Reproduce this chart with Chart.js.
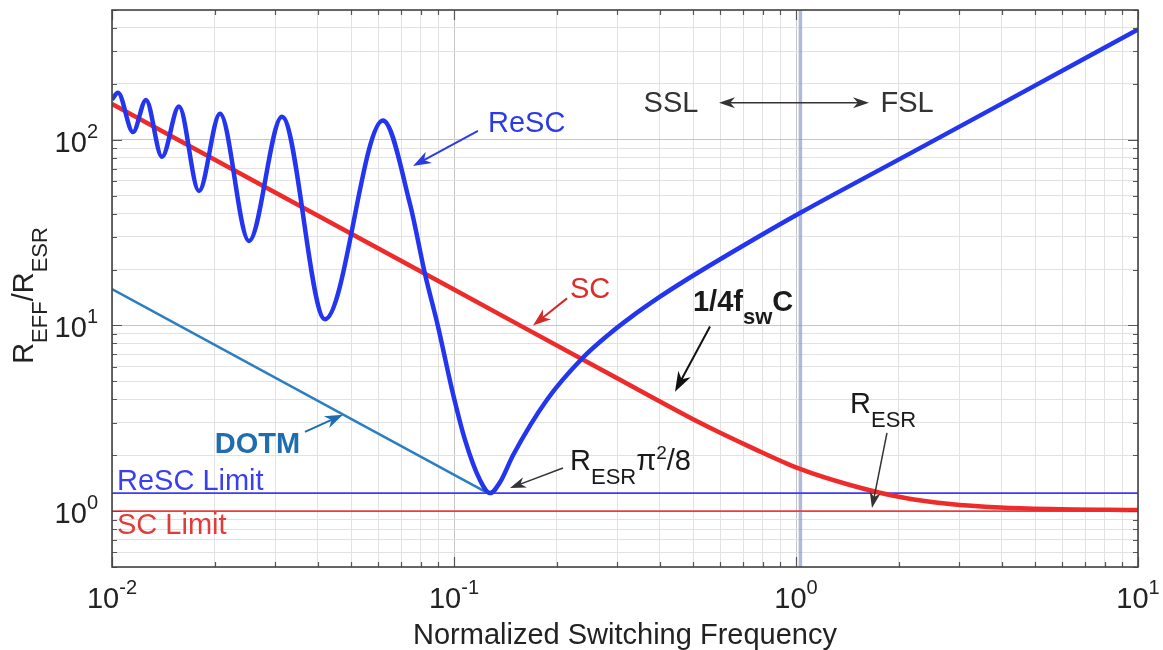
<!DOCTYPE html>
<html><head><meta charset="utf-8">
<script src="https://cdn.jsdelivr.net/npm/chart.js@4.4.1/dist/chart.umd.min.js"></script>
<style>html,body{margin:0;padding:0;background:#fff;}#wrap{width:1163px;height:650px;}</style>
</head><body><div id="wrap"><canvas id="c" width="1163" height="650"></canvas></div>
<script>
// ---- data ----
const rescFreq   = [0.0100, 0.01041, 0.01152, 0.01257, 0.01400, 0.01570, 0.01796, 0.02069, 0.02515, 0.03141, 0.04196, 0.06199, 0.07435, 0.08227, 0.08979, 0.09868, 0.1077, 0.1191, 0.1274, 0.1363, 0.1488, 0.187, 0.238, 0.2858, 0.327, 0.4003, 0.468, 0.686, 1.027, 2.014, 3.95, 10];
const rescValues = [165, 179, 110, 164, 81, 151, 53, 138, 28.5, 133, 10.8, 127, 45.1, 18.9, 9.88, 4.51, 2.42, 1.47, 1.25, 1.43, 2.0, 3.98, 6.7, 9.06, 10.99, 14.28, 17.19, 26.27, 40.3, 78.9, 154.6, 393];
const scFreq     = [0.01, 0.1, 0.3, 0.524, 0.6, 0.7337, 1.027, 1.439, 2.014, 2.82, 3.95, 5.53, 10];
const scValues   = [156, 15.6, 5.2, 2.99, 2.64, 2.218, 1.687, 1.382, 1.19, 1.091, 1.0445, 1.025, 1.0125];
const dotmFreq   = [0.01, 0.1256];
const dotmValues = [15.7, 1.25];
const limitFreq  = [0.01, 10];
const rescLimit  = [1.25, 1.25];
const scLimit    = [1.0, 1.0];
const boundaryFreq   = [1.03, 1.03];
const boundaryValues = [0.5, 500];
const xMajor = [0.01, 0.1, 1, 10];
const xTickLabels = ['10^-2', '10^-1', '10^0', '10^1'];
const yMajor = [1, 10, 100];
const yTickLabels = ['10^0', '10^1', '10^2'];

const FONT = '"Liberation Sans", Arial, Helvetica, sans-serif';
function minorTicks(lo, hi) {
  const out = [];
  for (let e = -3; e <= 3; e++) for (let m = 1; m <= 9; m++) {
    const v = +(m * Math.pow(10, e)).toPrecision(6);
    if (v >= lo - 1e-12 && v <= hi + 1e-9) out.push(v);
  }
  return out;
}
const xTickValues = minorTicks(0.01, 10);
const yTickValues = minorTicks(0.5, 500);
const isMaj = (arr, v) => arr.some(m => Math.abs(m - v) / m < 1e-6);
const pts = (xs, ys) => xs.map((x, i) => ({x, y: ys[i]}));
const powParts = s => { const p = s.split('^'); return [[p[0], 29], [p[1], 20, -14]]; };

// annotations (data coordinates)
const notes = [
  {at:[0.1257,110.5], align:'left', color:'#2a3be6', parts:[['ReSC',29]]},
  {at:[0.2184,13.99], align:'left', color:'#e02a2a', parts:[['SC',29]]},
  {at:[0.4997,11.9], align:'left', color:'#1a1a1a', bold:true, parts:[['1/4f',29],['sw',22,13],['C',29]]},
  {at:[0.2184,1.666], align:'left', color:'#1a1a1a', parts:[['R',29],['ESR',22,14],['\u03C0',29],['2',19,-11],['/8',29]]},
  {at:[1.439,3.386], align:'left', color:'#1a1a1a', parts:[['R',29],['ESR',22,14]]},
  {at:[0.4311,141.7], align:'center', color:'#333', parts:[['SSL',29]]},
  {at:[2.112,141.7], align:'center', color:'#333', parts:[['FSL',29]]},
  {at:[0.02663,2.058], align:'center', color:'#1f6db0', bold:true, parts:[['DOTM',29]]},
  {at:[0.01034,1.299], align:'left', color:'#3a3ff0', parts:[['ReSC Limit',29]]},
  {at:[0.01034,0.751], align:'left', color:'#e23b3b', parts:[['SC Limit',29]]}
];
const arrows = [
  {from:[0.1175,111.8], to:[0.0759,72.3], color:'#2a3be6', w:2, L:18, W:13},
  {from:[0.2140,13.99], to:[0.1702,10.0], color:'#d62828', w:2, L:18, W:13},
  {from:[0.5605,9.88], to:[0.4428,4.40], color:'#111', w:2, L:20, W:14},
  {from:[0.2083,1.708], to:[0.1458,1.331], color:'#333', w:1.5, L:16, W:11},
  {from:[1.845,2.64], to:[1.668,1.038], color:'#333', w:1.5, L:16, W:11},
  {from:[1.027,158.5], to:[0.5955,158.5], color:'#333', w:1.5, L:16, W:11},
  {from:[1.027,158.5], to:[1.635,158.5], color:'#333', w:1.5, L:16, W:11},
  {from:[0.03666,2.673], to:[0.04735,3.303], color:'#1f6db0', w:2, L:18, W:13}
];
const yTitleParts = [['R',29],['EFF',22,14],['/',29],['R',29],['ESR',22,14]];

function drawRich(ctx, parts, x, y, align, bold, color) {
  let total = 0;
  const m = parts.map(p => {
    ctx.font = (bold ? 'bold ' : '') + p[1] + 'px ' + FONT;
    const w = ctx.measureText(p[0]).width; total += w; return w;
  });
  let sx = align === 'center' ? x - total / 2 : (align === 'right' ? x - total : x);
  ctx.fillStyle = color; ctx.textBaseline = 'alphabetic'; ctx.textAlign = 'left';
  parts.forEach((p, i) => {
    ctx.font = (bold ? 'bold ' : '') + p[1] + 'px ' + FONT;
    ctx.fillText(p[0], sx, y + (p[2] || 0)); sx += m[i];
  });
}
function drawArrow(ctx, x1, y1, x2, y2, a) {
  const dx = x1 - x2, dy = y1 - y2, d = Math.hypot(dx, dy);
  const ux = dx / d, uy = dy / d, nx = -uy, ny = ux;
  ctx.strokeStyle = a.color; ctx.fillStyle = a.color; ctx.lineWidth = a.w;
  ctx.beginPath(); ctx.moveTo(x1, y1); ctx.lineTo(x2 + ux * a.L * 0.6, y2 + uy * a.L * 0.6); ctx.stroke();
  ctx.beginPath();
  ctx.moveTo(x2, y2);
  ctx.lineTo(x2 + ux * a.L + nx * a.W / 2, y2 + uy * a.L + ny * a.W / 2);
  ctx.lineTo(x2 + ux * a.L * 0.7, y2 + uy * a.L * 0.7);
  ctx.lineTo(x2 + ux * a.L - nx * a.W / 2, y2 + uy * a.L - ny * a.W / 2);
  ctx.closePath(); ctx.fill();
}

const decor = {
  id: 'decor',
  afterDatasetsDraw(chart) {
    const ctx = chart.ctx, xs = chart.scales.x, ys = chart.scales.y, a = chart.chartArea;
    ctx.save();
    // inward ticks
    ctx.strokeStyle = '#555'; ctx.lineWidth = 1.2;
    ctx.beginPath();
    xTickValues.forEach(v => {
      const p = Math.round(xs.getPixelForValue(v)) + 0.5, l = isMaj(xMajor, v) ? 10 : 5;
      ctx.moveTo(p, a.bottom); ctx.lineTo(p, a.bottom - l);
      ctx.moveTo(p, a.top); ctx.lineTo(p, a.top + l);
    });
    yTickValues.forEach(v => {
      const p = Math.round(ys.getPixelForValue(v)) + 0.5, l = isMaj(yMajor, v) ? 10 : 5;
      ctx.moveTo(a.left, p); ctx.lineTo(a.left + l, p);
      ctx.moveTo(a.right, p); ctx.lineTo(a.right - l, p);
    });
    ctx.stroke();
    // box
    ctx.strokeStyle = '#444'; ctx.lineWidth = 1.6;
    ctx.strokeRect(a.left, a.top, a.right - a.left, a.bottom - a.top);
    // tick labels (10 with raised exponent)
    xMajor.forEach((v, i) => drawRich(ctx, powParts(xTickLabels[i]), xs.getPixelForValue(v), a.bottom + 41, 'center', false, '#222'));
    yMajor.forEach((v, i) => drawRich(ctx, powParts(yTickLabels[i]), a.left - 14, ys.getPixelForValue(v) + 12, 'right', false, '#222'));
    // arrows
    arrows.forEach(r => drawArrow(ctx, xs.getPixelForValue(r.from[0]), ys.getPixelForValue(r.from[1]),
      xs.getPixelForValue(r.to[0]), ys.getPixelForValue(r.to[1]), r));
    // texts
    notes.forEach(n => drawRich(ctx, n.parts, xs.getPixelForValue(n.at[0]), ys.getPixelForValue(n.at[1]), n.align, n.bold, n.color));
    // y title
    ctx.translate(33, (a.top + a.bottom) / 2 + 7);
    ctx.rotate(-Math.PI / 2);
    drawRich(ctx, yTitleParts, 0, 0, 'center', false, '#222');
    ctx.restore();
  }
};

const line = (label, xs, ys, color, w, extra) => Object.assign({
  label, data: pts(xs, ys), borderColor: color, backgroundColor: color, borderWidth: w,
  pointRadius: 0, fill: false, tension: 0
}, extra || {});

new Chart(document.getElementById('c'), {
  type: 'line',
  data: {
    datasets: [
      line('ReSC', rescFreq, rescValues, '#2335ee', 4.5, {cubicInterpolationMode: 'monotone'}),
      line('SC', scFreq, scValues, '#ee2b2b', 4.5, {cubicInterpolationMode: 'monotone'}),
      line('DOTM', dotmFreq, dotmValues, '#2b7ec1', 2.5),
      line('ReSC Limit', limitFreq, rescLimit, '#3b3bff', 1.8),
      line('SC Limit', limitFreq, scLimit, '#ef3b3b', 1.8),
      line('SSL/FSL boundary', boundaryFreq, boundaryValues, 'rgba(120,138,195,0.6)', 3.5)
    ]
  },
  options: {
    responsive: false, animation: false, devicePixelRatio: 1,
    layout: {padding: {top: 10, right: 25, bottom: 0, left: 0}},
    plugins: {legend: {display: false}, tooltip: {enabled: false}},
    scales: {
      x: {
        type: 'logarithmic', min: 0.01, max: 10,
        afterBuildTicks: s => { s.ticks = xTickValues.map(v => ({value: v})); },
        afterFit: s => { s.height = 83; s.paddingLeft = 0; s.paddingRight = 0; },
        ticks: {display: false, autoSkip: false},
        grid: {drawTicks: false, lineWidth: 1, color: c => isMaj(xMajor, c.tick.value) ? '#c6c6c6' : '#e2e2e2'},
        border: {display: false},
        title: {display: true, text: 'Normalized Switching Frequency', color: '#222',
          font: {family: FONT, size: 29, lineHeight: 1}, padding: {top: 0, bottom: 0}}
      },
      y: {
        type: 'logarithmic', min: 0.5, max: 500,
        afterBuildTicks: s => { s.ticks = yTickValues.map(v => ({value: v})); },
        afterFit: s => { s.width = 112; s.paddingTop = 0; s.paddingBottom = 0; },
        ticks: {display: false, autoSkip: false},
        grid: {drawTicks: false, lineWidth: 1, color: c => isMaj(yMajor, c.tick.value) ? '#c6c6c6' : '#e2e2e2'},
        border: {display: false},
        title: {display: false}
      }
    }
  },
  plugins: [decor]
});
</script>
</body></html>
